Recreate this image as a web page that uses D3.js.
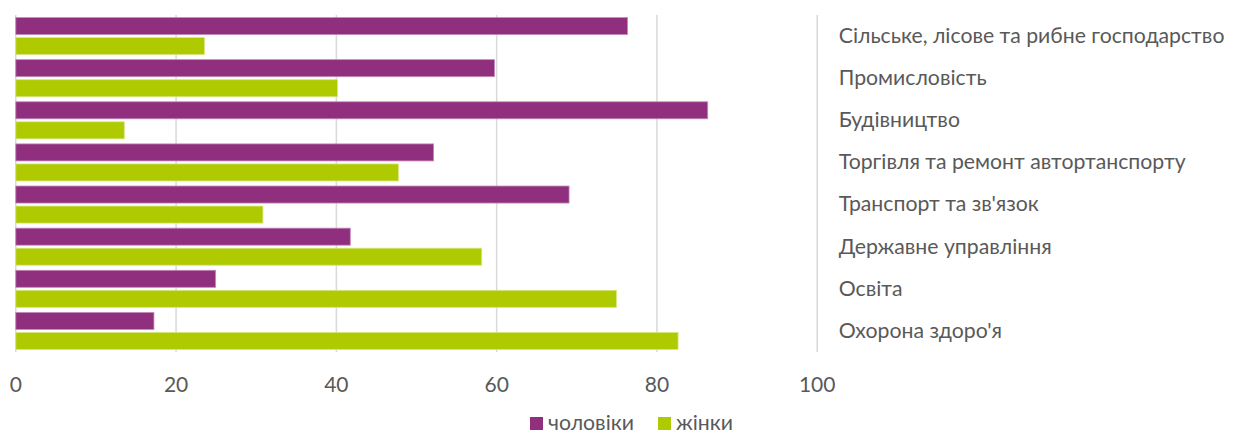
<!DOCTYPE html>
<html><head><meta charset="utf-8">
<script src="https://cdn.jsdelivr.net/npm/d3@7"></script>
<style>
body{margin:0;background:#fff;}
text{font-family:"Lato",sans-serif;}
</style></head>
<body><svg id="c" width="1239" height="430"></svg>
<script>
const categories = ["Сільське, лісове та рибне господарство","Промисловість","Будівництво","Торгівля та ремонт автортанспорту","Транспорт та зв'язок","Державне управління","Освіта","Охорона здоро'я"];
const seriesNames = ["чоловіки","жінки"];
const men   = [76.4, 59.8, 86.4, 52.2, 69.1, 41.8, 25.0, 17.3];
const women = [23.6, 40.2, 13.6, 47.8, 30.9, 58.2, 75.0, 82.7];
const xTicks = [0,20,40,60,80,100];
const colors = ["#8F2F7D","#AFCA00"];
const strokes = ["#C48CB8","#D6E680"];

const svg = d3.select("#c");
const pTop = 15, pBottom = 352, pLeft = 15.3, pRight = 816.7;
const x = d3.scaleLinear().domain([0,100]).range([pLeft,pRight]);
const y = d3.scaleBand().domain(categories).range([pTop,pBottom]).paddingInner(0.12).paddingOuter(0.06);
const y1 = d3.scaleBand().domain(seriesNames).range([0,y.bandwidth()]).paddingInner(0.15);

// gridlines + x axis
const gx = svg.append("g").attr("transform",`translate(0,${pBottom})`)
  .call(d3.axisBottom(x).tickValues(xTicks).tickSize(-(pBottom-pTop)).tickPadding(25).tickFormat(d3.format("d")));
gx.select(".domain").remove();
gx.selectAll(".tick line").attr("stroke","#d9d9d9").attr("stroke-width",1.5);
gx.selectAll(".tick text").attr("fill","#595959").style("font-size","21px").style("font-family","Lato,sans-serif");

// bars
const data = categories.map((c,i)=>({c, vals:[men[i],women[i]]}));
const g = svg.append("g").selectAll("g").data(data).join("g")
  .attr("transform",d=>`translate(0,${y(d.c)})`);
g.selectAll("rect").data(d=>d.vals.map((v,j)=>({v,j}))).join("rect")
  .attr("x",x(0)+0.5)
  .attr("y",d=>y1(seriesNames[d.j]))
  .attr("height",y1.bandwidth())
  .attr("width",d=>x(d.v)-x(0)-0.5)
  .attr("fill",d=>colors[d.j])
  .attr("stroke",d=>strokes[d.j])
  .attr("stroke-width",0.8);

// category labels on right
const gy = svg.append("g").attr("transform",`translate(${pRight},0)`)
  .call(d3.axisRight(y).tickSize(0).tickPadding(22));
gy.select(".domain").remove();
const labs = gy.selectAll(".tick text").attr("fill","#595959").style("font-family","Lato,sans-serif").style("font-size","20px");
// fit longest label to reference width
let maxW = 0; labs.each(function(){ maxW = Math.max(maxW, this.getComputedTextLength()); });
const fs = 20 * 386 / maxW;
labs.style("font-size", fs + "px");

// legend
const leg = svg.append("g").attr("transform","translate(530,417)");
const items = [{n:seriesNames[0],x:0},{n:seriesNames[1],x:128}];
items.forEach((it,i)=>{
  leg.append("rect").attr("x",it.x).attr("y",0).attr("width",13).attr("height",13).attr("fill",colors[i]);
  leg.append("text").attr("x",it.x+18).attr("y",12.5).attr("fill","#595959").style("font-size",fs+"px").text(it.n);
});
</script></body></html>
